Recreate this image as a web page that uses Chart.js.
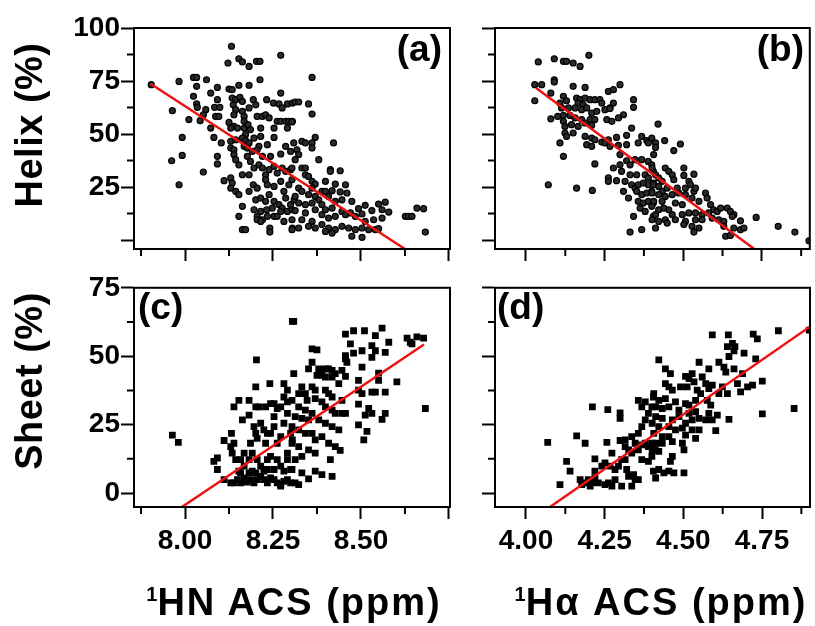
<!DOCTYPE html>
<html><head><meta charset="utf-8">
<script src="https://cdn.jsdelivr.net/npm/chart.js@4.4.1/dist/chart.umd.min.js"></script>
<style>
body{margin:0;background:#fff;width:815px;height:626px;overflow:hidden;position:relative;font-family:"Liberation Sans",Arial,sans-serif;}
canvas{position:absolute;}
.t{position:absolute;font-weight:bold;color:#000;white-space:nowrap;line-height:1;}
.yt{font-size:38px;letter-spacing:0.5px;transform:translate(-50%,-50%) rotate(-90deg);}
.xt{font-size:38px;letter-spacing:2px;transform:translateX(-50%);}
.xt sup{font-size:20px;vertical-align:top;position:relative;top:1px;letter-spacing:0;}
.pl{font-size:37px;}
</style></head><body>
<canvas id="ca" width="460" height="270" style="left:0;top:0"></canvas>
<canvas id="cb" width="355" height="270" style="left:460px;top:0"></canvas>
<canvas id="cc" width="460" height="356" style="left:0;top:270px"></canvas>
<canvas id="cd" width="355" height="356" style="left:460px;top:270px"></canvas>
<div class="t yt" style="left:29px;top:125px">Helix (%)</div>
<div class="t yt" style="left:29px;top:381px">Sheet (%)</div>
<div class="t xt" style="left:294px;top:583px"><sup>1</sup>HN ACS (ppm)</div>
<div class="t xt" style="left:661px;top:583px"><sup>1</sup>Hα ACS (ppm)</div>
<div class="t pl" style="right:373px;top:30px">(a)</div>
<div class="t pl" style="right:11px;top:30px">(b)</div>
<div class="t pl" style="left:138px;top:288px">(c)</div>
<div class="t pl" style="left:497px;top:288px">(d)</div>
<script>
// ---- axis ticks ----
const hnMajorTicks = [8.0, 8.25, 8.5, 8.75];
const hnMinorTicks = [7.875, 8.125, 8.375, 8.625];
const hnTickLabels = [8.0, 8.25, 8.5];
const haMajorTicks = [4.0, 4.25, 4.5, 4.75];
const haMinorTicks = [4.125, 4.375, 4.625, 4.875];
const haTickLabels = [4.0, 4.25, 4.5, 4.75];
const helixMajorTicks = [0, 25, 50, 75, 100];
const helixMinorTicks = [12.5, 37.5, 62.5, 87.5];
const helixTickLabels = [25, 50, 75, 100];
const sheetMajorTicks = [0, 25, 50, 75];
const sheetMinorTicks = [12.5, 37.5, 62.5];
const sheetTickLabels = [0, 25, 50, 75];

// ---- fitted lines (x, y) ----
const fitA = [[7.903, 73.6], [8.625, -4.2]];
const fitB = [[4.032, 71.7], [4.726, -4.2]];
const fitC = [[7.991, -5.1], [8.679, 54.3]];
const fitD = [[4.076, -5.1], [4.902, 60.8]];

// ---- (a) Helix vs 1HN ACS ----
const helixHN = [
[8.132,91.4],[8.272,87.1],[8.122,83.5],[8.153,85.5],[8.163,84.0],[8.182,81.9],[8.203,84.3],[8.213,84.3],
[7.904,73.3],[7.983,74.8],[8.024,76.7],[8.033,76.7],[8.061,75.6],[8.213,75.6],[8.033,72.5],[8.092,72.0],
[8.125,71.2],[8.134,70.9],[8.153,73.0],[8.182,73.0],[8.272,69.3],[7.964,61.0],[8.024,67.8],[8.033,64.2],
[8.035,62.6],[8.059,61.5],[8.073,69.3],[8.084,62.6],[8.099,62.6],[8.092,66.2],[8.134,67.0],[8.144,66.2],
[8.156,67.3],[8.163,65.4],[8.137,63.8],[8.144,61.5],[8.163,60.7],[8.182,62.3],[8.194,66.2],[8.201,63.8],
[8.232,66.2],[8.251,64.6],[8.267,64.2],[8.276,62.3],[8.291,64.2],[8.305,64.6],[8.052,59.1],[8.087,58.3],
[8.096,58.3],[8.139,59.1],[8.168,58.3],[8.205,58.3],[8.220,58.3],[8.229,59.1],[8.239,57.6],[8.011,56.8],
[8.043,56.3],[8.125,55.5],[8.139,53.6],[8.168,56.0],[8.168,52.8],[8.179,54.4],[8.262,56.0],[8.272,56.0],
[8.286,56.0],[8.295,56.0],[8.305,56.0],[8.073,52.8],[8.130,52.8],[8.149,52.8],[8.172,49.7],[8.186,52.1],
[8.215,52.8],[8.253,52.8],[8.291,52.8],[7.992,48.4],[8.082,48.4],[8.103,45.8],[8.130,46.6],[8.144,47.3],
[8.163,48.1],[8.172,46.9],[8.182,45.8],[8.196,48.1],[8.215,48.9],[8.253,48.4],[8.234,45.0],[8.210,44.2],
[8.168,44.2],[8.130,43.4],[8.139,42.6],[8.177,43.4],[8.191,41.8],[8.205,42.6],[8.220,39.5],[8.243,39.5],
[8.272,40.6],[8.286,44.2],[8.300,41.8],[7.992,39.9],[7.962,37.4],[8.092,39.5],[8.092,35.9],[8.139,40.3],
[8.144,37.9],[8.153,35.5],[8.177,39.5],[8.186,37.1],[8.196,34.0],[8.210,35.5],[8.220,34.0],[8.229,30.8],
[8.239,33.2],[8.253,34.8],[8.262,31.6],[8.276,34.0],[8.286,32.4],[8.300,33.2],[8.052,32.1],[7.983,26.1],
[8.111,28.0],[8.130,29.3],[8.134,26.9],[8.163,30.8],[8.182,30.8],[8.194,26.1],[8.205,24.5],[8.229,28.5],
[8.234,26.1],[8.253,25.3],[8.272,27.7],[8.281,23.0],[8.295,26.1],[8.130,24.5],[8.144,23.0],[8.153,21.4],
[8.182,23.0],[8.201,19.0],[8.215,19.8],[8.229,18.3],[8.239,21.4],[8.253,18.3],[8.267,16.7],[8.276,15.1],
[8.286,19.8],[8.300,16.7],[8.310,19.0],[8.163,15.9],[8.196,14.3],[8.215,13.5],[8.232,14.3],[8.248,15.1],
[8.272,13.5],[8.291,13.5],[8.305,14.3],[8.153,11.2],[8.205,11.2],[8.220,9.6],[8.234,11.2],[8.253,11.2],
[8.262,11.2],[8.281,8.8],[8.205,9.6],[8.215,8.8],[8.163,4.9],[8.172,4.9],[8.241,5.7],[8.241,3.8],[8.305,5.7],
[8.361,76.7],[8.313,65.1],[8.323,65.1],[8.351,64.2],[8.361,59.4],[8.304,55.7],[8.370,48.4],[8.309,45.8],
[8.332,46.6],[8.342,45.8],[8.361,45.8],[8.361,43.4],[8.422,45.8],[8.318,42.6],[8.323,40.3],[8.313,37.9],
[8.380,37.9],[8.304,34.0],[8.332,34.0],[8.342,34.0],[8.413,33.2],[8.413,32.4],[8.441,32.7],[8.342,30.8],
[8.304,28.5],[8.351,30.0],[8.361,27.7],[8.370,26.4],[8.399,27.7],[8.427,26.4],[8.456,26.1],[8.323,24.5],
[8.332,23.0],[8.361,24.5],[8.389,23.0],[8.399,23.0],[8.418,23.3],[8.441,22.7],[8.460,22.2],[8.313,20.6],
[8.351,21.4],[8.370,20.6],[8.380,19.0],[8.408,20.6],[8.427,18.3],[8.446,19.0],[8.474,18.3],[8.550,17.0],
[8.569,17.9],[8.323,17.5],[8.342,16.7],[8.361,17.5],[8.389,16.7],[8.399,14.3],[8.418,15.1],[8.446,13.5],
[8.493,14.8],[8.512,16.4],[8.531,13.9],[8.560,14.3],[8.579,13.2],[8.313,13.9],[8.342,12.8],[8.370,14.3],
[8.389,12.0],[8.408,10.4],[8.427,11.2],[8.456,12.0],[8.470,12.8],[8.484,11.2],[8.503,12.3],[8.512,8.8],
[8.536,9.6],[8.560,10.4],[8.626,11.2],[8.635,11.2],[8.645,11.2],[8.659,15.1],[8.678,14.8],[8.304,9.6],
[8.332,9.6],[8.361,8.8],[8.389,7.3],[8.408,5.7],[8.427,4.9],[8.446,6.5],[8.465,5.7],[8.484,4.9],[8.503,5.7],
[8.522,4.9],[8.541,4.9],[8.550,5.4],[8.323,5.7],[8.351,6.5],[8.370,5.7],[8.399,4.1],[8.418,3.3],[8.474,1.8],
[8.503,1.3],[8.683,3.8],[8.304,4.9]
];

// ---- (b) Helix vs 1Ha ACS ----
const helixHA = [
[4.039,84.0],[4.090,85.5],[4.119,84.3],[4.129,84.3],[4.150,83.5],[4.172,81.9],[4.200,87.1],[4.028,73.3],
[4.050,73.3],[4.090,75.6],[4.090,74.5],[4.150,72.5],[4.188,72.0],[4.028,65.7],[4.079,69.3],[4.119,67.8],
[4.129,65.7],[4.108,64.6],[4.161,67.0],[4.172,66.2],[4.188,67.0],[4.166,64.6],[4.182,63.8],[4.204,66.2],
[4.219,66.2],[4.235,66.2],[4.241,64.6],[4.262,70.1],[4.278,70.9],[4.299,73.3],[4.267,62.3],[4.278,64.6],
[4.342,66.2],[4.342,62.6],[4.113,62.3],[4.135,62.3],[4.156,62.3],[4.177,61.5],[4.193,62.3],[4.209,59.9],
[4.225,60.7],[4.251,61.5],[4.267,62.0],[4.079,57.2],[4.101,58.3],[4.119,58.8],[4.140,58.8],[4.156,57.6],
[4.177,56.8],[4.204,56.8],[4.219,56.8],[4.257,56.8],[4.273,56.0],[4.294,57.6],[4.310,59.1],[4.119,56.0],
[4.124,53.6],[4.145,54.4],[4.166,53.6],[4.188,55.2],[4.124,50.5],[4.150,50.5],[4.209,54.1],[4.336,52.8],
[4.129,48.9],[4.188,48.9],[4.209,48.1],[4.219,47.3],[4.262,47.3],[4.288,48.4],[4.320,49.4],[4.368,48.9],
[4.384,46.9],[4.400,48.1],[4.108,45.8],[4.193,45.0],[4.209,44.2],[4.241,46.2],[4.251,45.8],[4.267,44.2],
[4.294,44.7],[4.299,40.3],[4.320,45.0],[4.357,45.8],[4.389,45.8],[4.119,39.5],[4.219,35.9],[4.278,34.0],
[4.299,35.5],[4.320,37.4],[4.331,35.5],[4.347,37.9],[4.368,37.9],[4.389,37.1],[4.400,35.5],[4.304,32.4],
[4.331,30.8],[4.352,30.8],[4.379,30.8],[4.389,29.3],[4.405,32.4],[4.071,26.1],[4.161,24.5],[4.211,23.4],
[4.262,29.3],[4.262,27.7],[4.288,28.0],[4.315,27.7],[4.336,26.1],[4.347,24.5],[4.357,26.1],[4.373,26.9],
[4.389,26.1],[4.405,26.9],[4.310,23.0],[4.326,19.8],[4.352,23.0],[4.368,21.4],[4.384,22.2],[4.400,23.0],
[4.357,18.3],[4.373,17.5],[4.389,18.3],[4.405,17.5],[4.363,15.1],[4.379,13.5],[4.400,15.9],[4.342,11.2],
[4.405,11.2],[4.331,3.8],[4.368,4.9],
[4.420,54.7],[4.441,46.9],[4.412,45.8],[4.412,43.7],[4.491,45.3],[4.470,42.2],[4.406,40.3],[4.401,34.0],
[4.443,34.0],[4.454,32.4],[4.465,30.8],[4.502,34.0],[4.412,30.8],[4.422,29.3],[4.433,27.7],[4.470,28.5],
[4.502,30.5],[4.534,31.1],[4.518,27.7],[4.523,26.1],[4.406,26.1],[4.422,25.3],[4.433,23.0],[4.449,24.5],
[4.481,24.5],[4.507,24.5],[4.534,23.0],[4.539,24.5],[4.401,22.2],[4.422,21.4],[4.443,20.6],[4.465,21.4],
[4.486,22.2],[4.507,21.4],[4.528,19.8],[4.571,22.2],[4.576,19.8],[4.406,18.3],[4.433,18.3],[4.475,17.5],
[4.497,16.7],[4.550,18.3],[4.587,16.7],[4.597,14.3],[4.608,13.5],[4.619,15.1],[4.640,15.1],[4.650,13.5],
[4.661,12.0],[4.581,12.8],[4.560,12.0],[4.539,12.8],[4.518,12.8],[4.497,12.0],[4.465,12.0],[4.454,14.3],
[4.438,15.1],[4.422,14.3],[4.412,12.0],[4.443,9.6],[4.475,9.6],[4.507,8.8],[4.539,9.6],[4.560,9.6],
[4.592,10.4],[4.613,9.6],[4.629,8.8],[4.656,11.2],[4.682,9.1],[4.401,9.6],[4.422,8.8],[4.449,8.0],
[4.502,7.3],[4.528,6.5],[4.550,5.7],[4.629,6.5],[4.661,5.7],[4.682,4.9],[4.693,5.7],[4.534,3.8],
[4.635,1.8],[4.650,2.2],[4.732,10.7],[4.802,6.5],[4.855,3.8],[4.900,-0.3],[4.412,5.7]
];

// ---- (c) Sheet vs 1HN ACS ----
const sheetHN = [
[8.305,62.7],[8.203,48.7],[7.964,21.2],[7.981,18.5],[8.082,11.6],[8.092,12.8],[8.092,8.6],[8.111,19.2],
[8.132,21.8],[8.130,17.0],[8.134,14.6],[8.139,18.2],[8.144,12.2],[8.111,4.9],[8.130,3.7],[8.139,3.7],
[8.149,4.9],[8.153,8.0],[8.158,12.2],[8.168,14.6],[8.168,9.8],[8.182,12.2],[8.182,7.4],[8.186,4.9],
[8.196,3.7],[8.205,4.9],[8.215,6.1],[8.224,4.9],[8.234,3.7],[8.243,5.5],[8.253,4.9],[8.262,3.7],
[8.272,3.1],[8.281,4.3],[8.291,4.9],[8.300,3.7],[8.139,31.5],[8.153,33.9],[8.182,33.9],[8.201,38.8],
[8.241,40.0],[8.281,40.0],[8.291,37.6],[8.182,28.5],[8.163,26.7],[8.196,24.3],[8.201,21.8],[8.205,20.0],
[8.215,25.5],[8.224,23.1],[8.229,18.2],[8.234,21.8],[8.243,21.8],[8.253,27.9],[8.253,24.3],[8.262,18.2],
[8.272,20.6],[8.281,25.5],[8.291,29.1],[8.300,21.8],[8.291,14.6],[8.305,19.4],[8.201,31.5],[8.210,31.5],
[8.229,31.5],[8.243,32.7],[8.253,32.7],[8.262,30.9],[8.272,31.5],[8.281,35.1],[8.291,33.3],[8.186,18.2],
[8.191,14.6],[8.205,12.2],[8.215,9.8],[8.234,12.2],[8.243,13.4],[8.262,12.2],[8.272,9.8],[8.291,12.2],
[8.300,8.6],[8.158,7.4],[8.168,5.5],[8.191,8.0],[8.201,7.4],[8.224,8.0],[8.234,8.6],[8.253,8.6],
[8.281,8.0],[8.158,3.7],[8.177,4.0],[8.272,2.5],
[8.309,62.7],[8.456,58.1],[8.479,59.3],[8.510,59.3],[8.560,60.3],[8.541,57.5],[8.579,55.1],[8.631,56.6],
[8.659,57.1],[8.678,56.6],[8.640,55.1],[8.645,54.5],[8.470,54.5],[8.456,50.2],[8.479,51.1],[8.503,52.0],
[8.531,53.9],[8.541,52.0],[8.569,51.4],[8.361,52.7],[8.375,52.3],[8.456,49.0],[8.460,47.8],[8.503,46.0],
[8.531,49.6],[8.361,47.8],[8.351,45.4],[8.380,45.4],[8.399,45.4],[8.408,45.4],[8.418,44.8],[8.427,43.6],
[8.446,44.8],[8.456,42.6],[8.375,43.0],[8.389,43.0],[8.399,42.4],[8.418,42.4],[8.309,43.6],[8.437,40.0],
[8.493,41.2],[8.550,43.8],[8.550,41.2],[8.602,40.6],[8.493,37.6],[8.503,36.3],[8.531,36.9],[8.541,36.9],
[8.569,36.9],[8.332,38.8],[8.361,38.8],[8.370,37.6],[8.323,36.3],[8.342,36.3],[8.399,37.6],[8.408,36.3],
[8.418,35.1],[8.446,33.9],[8.304,33.9],[8.347,33.9],[8.370,34.5],[8.389,33.3],[8.493,32.5],[8.522,30.9],
[8.531,29.1],[8.512,28.5],[8.569,29.1],[8.560,26.9],[8.323,31.5],[8.342,30.3],[8.361,29.1],[8.399,31.5],
[8.418,30.3],[8.427,29.1],[8.446,29.1],[8.456,29.1],[8.683,30.9],[8.313,27.9],[8.332,27.3],[8.351,26.7],
[8.380,26.7],[8.399,25.5],[8.418,24.3],[8.437,23.1],[8.493,24.9],[8.517,22.5],[8.508,19.4],[8.304,24.3],
[8.323,23.1],[8.342,21.8],[8.361,21.8],[8.370,19.4],[8.389,20.6],[8.408,18.2],[8.427,17.0],[8.441,15.6],
[8.304,18.2],[8.323,17.0],[8.351,15.8],[8.370,14.6],[8.332,13.4],[8.313,12.2],[8.413,12.2],[8.304,8.6],
[8.332,7.4],[8.370,8.0],[8.389,6.7],[8.418,6.1],[8.351,5.2],[8.313,3.7],[8.323,3.1]
];

// ---- (d) Sheet vs 1Ha ACS ----
const sheetHA = [
[4.069,18.5],[4.129,11.6],[4.140,8.0],[4.108,3.1],[4.161,20.9],[4.188,18.2],[4.211,31.5],[4.260,30.5],
[4.299,29.3],[4.299,27.3],[4.257,18.5],[4.219,12.5],[4.267,9.8],[4.299,19.2],[4.315,19.4],[4.336,20.6],
[4.357,21.8],[4.368,24.3],[4.379,26.7],[4.389,29.1],[4.400,31.5],[4.405,35.1],[4.379,33.3],[4.357,33.9],
[4.368,31.5],[4.347,18.2],[4.357,15.8],[4.368,17.6],[4.379,18.2],[4.389,17.0],[4.400,18.2],[4.411,15.8],
[4.368,12.2],[4.389,11.6],[4.400,13.4],[4.405,8.0],[4.326,15.8],[4.336,14.6],[4.315,17.0],[4.304,12.2],
[4.294,9.8],[4.283,8.6],[4.320,8.6],[4.326,6.1],[4.342,6.7],[4.347,4.9],[4.357,4.9],[4.336,2.5],
[4.283,4.9],[4.262,3.7],[4.251,3.1],[4.273,2.5],[4.219,5.5],[4.230,3.7],[4.209,3.7],[4.198,4.9],
[4.188,3.7],[4.177,3.1],[4.172,4.9],[4.204,2.5],[4.304,2.5],[4.315,12.2],[4.273,14.6],[4.241,9.8],
[4.219,8.0],[4.251,11.0],
[4.592,57.8],[4.643,57.8],[4.722,58.1],[4.735,56.3],[4.802,59.3],[4.900,59.5],[4.656,54.7],[4.640,53.5],
[4.664,53.5],[4.645,49.9],[4.661,52.0],[4.693,51.1],[4.730,49.0],[4.422,48.7],[4.550,47.8],[4.581,45.4],
[4.613,47.8],[4.629,46.0],[4.635,44.2],[4.661,45.4],[4.688,43.6],[4.751,40.9],[4.720,39.4],[4.704,38.8],
[4.682,37.0],[4.672,40.0],[4.640,36.3],[4.624,38.8],[4.443,45.4],[4.459,43.6],[4.507,42.6],[4.518,41.8],
[4.528,43.6],[4.534,40.6],[4.560,42.4],[4.571,40.0],[4.581,38.2],[4.592,39.4],[4.443,40.0],[4.454,38.8],
[4.465,37.6],[4.491,38.8],[4.512,38.8],[4.544,37.6],[4.555,36.3],[4.406,36.3],[4.422,33.9],[4.443,34.5],
[4.475,33.3],[4.507,32.7],[4.518,32.1],[4.539,33.9],[4.576,33.9],[4.587,32.1],[4.613,36.3],[4.412,31.5],
[4.433,30.9],[4.454,31.5],[4.486,30.3],[4.518,29.1],[4.539,29.7],[4.581,29.1],[4.608,28.5],[4.645,26.9],
[4.751,28.9],[4.852,30.9],[4.412,27.9],[4.433,27.3],[4.465,26.7],[4.486,27.9],[4.507,25.5],[4.528,26.7],
[4.550,27.3],[4.571,26.7],[4.592,26.7],[4.401,25.5],[4.422,24.3],[4.454,24.3],[4.475,23.1],[4.497,23.7],
[4.528,23.1],[4.550,23.1],[4.603,22.8],[4.406,21.8],[4.433,20.6],[4.454,20.6],[4.507,21.2],[4.539,20.0],
[4.412,18.2],[4.433,18.2],[4.465,18.8],[4.497,18.2],[4.401,15.8],[4.422,15.2],[4.465,13.4],[4.502,15.8],
[4.459,11.6],[4.422,8.6],[4.438,7.4],[4.454,8.0],[4.470,7.4],[4.502,7.4],[4.412,5.5]
];

// ---- drawing ----
const framePlugin = {
  id: 'frame',
  afterDraw(chart, args, o) {
    const {ctx, chartArea: a, scales: {x, y}} = chart;
    ctx.save();
    ctx.strokeStyle = '#000';
    ctx.lineWidth = 2;
    ctx.strokeRect(a.left, a.top, a.right - a.left, a.bottom - a.top);
    ctx.beginPath();
    o.minorX.forEach(v => { const p = x.getPixelForValue(v); ctx.moveTo(p, a.bottom); ctx.lineTo(p, a.bottom + 7); });
    o.minorY.forEach(v => { const p = y.getPixelForValue(v); ctx.moveTo(a.left, p); ctx.lineTo(a.left - 7, p); });
    ctx.stroke();
    ctx.restore();
  }
};

const tickFont = {family: '"Liberation Sans", Arial, sans-serif', size: 28, weight: 'bold'};

function panel(id, cfg) {
  const pts = cfg.points.map(([x, y]) => ({x, y}));
  const fit = cfg.fit.map(([x, y]) => ({x, y}));
  const square = cfg.marker === 'rect';
  new Chart(document.getElementById(id), {
    type: 'scatter',
    data: {datasets: [
      {type: 'line', data: fit, borderColor: '#ee1111', borderWidth: 2.5, pointRadius: 0, fill: false, tension: 0},
      {data: pts, pointStyle: cfg.marker,
       pointRadius: square ? 4.8 : 3.0,
       backgroundColor: square ? '#000' : '#2b2b2b',
       borderColor: '#000', borderWidth: square ? 0 : 1.2}
    ]},
    options: {
      responsive: false, animation: false, events: [],
      layout: {padding: {top: cfg.padTop, right: cfg.padRight, left: 0, bottom: 0}},
      plugins: {legend: {display: false}, tooltip: {enabled: false},
                frame: {minorX: cfg.minorX, minorY: cfg.minorY}},
      scales: {
        x: {type: 'linear', position: 'bottom', min: cfg.xMin, max: cfg.xMax,
            afterBuildTicks: s => { s.ticks = cfg.majorX.map(v => ({value: v})); },
            afterFit: s => { s.height = cfg.xH; },
            ticks: {autoSkip: false, maxRotation: 0, padding: 5, color: '#000', font: tickFont,
                    callback: v => cfg.xLabels.includes(v) ? v.toFixed(2) : ''},
            grid: {display: true, drawOnChartArea: false, drawTicks: true, tickLength: 12, tickWidth: 2, tickColor: '#000', color: '#000'},
            border: {display: true, color: '#000', width: 2}},
        y: {type: 'linear', position: 'left', min: cfg.yMin, max: cfg.yMax,
            afterBuildTicks: s => { s.ticks = cfg.majorY.map(v => ({value: v})); },
            afterFit: s => { s.width = cfg.yW; },
            ticks: {autoSkip: false, padding: 1, color: '#000', font: tickFont,
                    callback: v => cfg.yLabels.includes(v) ? String(v) : ''},
            grid: {display: true, drawOnChartArea: false, drawTicks: true, tickLength: 13, tickWidth: 2, tickColor: '#000', color: '#000'},
            border: {display: true, color: '#000', width: 2}}
      }
    },
    plugins: [framePlugin]
  });
}

panel('ca', {points: helixHN, fit: fitA, marker: 'circle', xMin: 7.855, xMax: 8.753, yMin: -4.2, yMax: 100,
  majorX: hnMajorTicks, minorX: hnMinorTicks, xLabels: [], majorY: helixMajorTicks, minorY: helixMinorTicks, yLabels: helixTickLabels,
  padTop: 28, padRight: 10, xH: 21, yW: 134});
panel('cb', {points: helixHA, fit: fitB, marker: 'circle', xMin: 3.9015, xMax: 4.9025, yMin: -4.2, yMax: 100,
  majorX: haMajorTicks, minorX: haMinorTicks, xLabels: [], majorY: helixMajorTicks, minorY: helixMinorTicks, yLabels: [],
  padTop: 28, padRight: 5, xH: 21, yW: 35});
panel('cc', {points: sheetHN, fit: fitC, marker: 'rect', xMin: 7.855, xMax: 8.753, yMin: -5.1, yMax: 75,
  majorX: hnMajorTicks, minorX: hnMinorTicks, xLabels: hnTickLabels, majorY: sheetMajorTicks, minorY: sheetMinorTicks, yLabels: sheetTickLabels,
  padTop: 16, padRight: 10, xH: 119, yW: 134});
panel('cd', {points: sheetHA, fit: fitD, marker: 'rect', xMin: 3.9015, xMax: 4.9025, yMin: -5.1, yMax: 75,
  majorX: haMajorTicks, minorX: haMinorTicks, xLabels: haTickLabels, majorY: sheetMajorTicks, minorY: sheetMinorTicks, yLabels: [],
  padTop: 16, padRight: 5, xH: 119, yW: 35});
</script>
</body></html>
